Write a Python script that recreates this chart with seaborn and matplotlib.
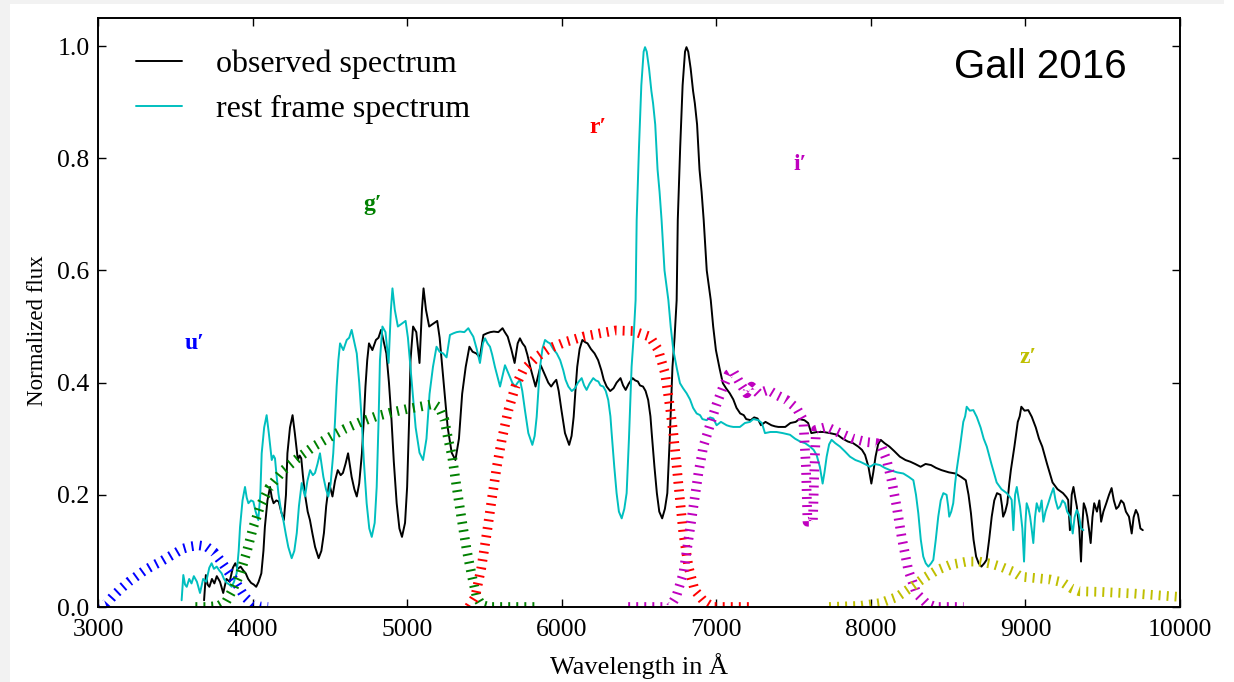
import matplotlib
matplotlib.use("Agg")
import matplotlib.pyplot as plt
from matplotlib.patches import Rectangle
from matplotlib.ticker import FormatStrFormatter
import pandas as pd
import seaborn as sns

# ---------------- data ----------------
# rest-frame wavelength (Angstrom) and normalized flux of the spectrum
rest_wavelength = [
    3541, 3552, 3563, 3574, 3590, 3605, 3620, 3640, 3660, 3680, 3700, 3720, 3735, 3750, 3768,
    3785, 3800, 3815, 3833, 3850, 3865, 3880, 3897, 3910, 3919, 3935, 3951, 3962, 3973, 3990,
    4005, 4020, 4037, 4050, 4059, 4075, 4091, 4105, 4124, 4135, 4145, 4155, 4167, 4185, 4199,
    4215, 4231, 4253, 4270, 4286, 4300, 4318, 4339, 4355, 4372, 4390, 4404, 4420, 4436, 4458,
    4475, 4490, 4505, 4522, 4533, 4544, 4555, 4566, 4587, 4609, 4625, 4641, 4660, 4674, 4690,
    4706, 4720, 4738, 4755, 4771, 4790, 4803, 4815, 4824, 4840, 4860, 4880, 4895, 4905, 4920,
    4940, 4965, 4990, 5005, 5030, 5055, 5080, 5103, 5125, 5145, 5167, 5190, 5210, 5233, 5255,
    5277, 5300, 5320, 5342, 5370, 5396, 5410, 5428, 5450, 5471, 5490, 5504, 5520, 5536, 5550,
    5568, 5585, 5601, 5615, 5633, 5650, 5665, 5680, 5698, 5715, 5730, 5745, 5762, 5784, 5810,
    5825, 5838, 5850, 5860, 5875, 5892, 5910, 5924, 5945, 5968, 5990, 6010, 6025, 6043, 6065,
    6086, 6105, 6129, 6145, 6161, 6180, 6204, 6220, 6237, 6250, 6269, 6285, 6301, 6315, 6323,
    6340, 6355, 6370, 6388, 6405, 6420, 6435, 6452, 6465, 6478, 6485, 6500, 6515, 6530, 6539,
    6550, 6565, 6580, 6591, 6605, 6620, 6633, 6646, 6665, 6690, 6705, 6722, 6745, 6765, 6785,
    6808, 6830, 6850, 6873, 6895, 6910, 6938, 6960, 6981, 7002, 7030, 7067, 7090, 7110, 7153,
    7185, 7218, 7240, 7272, 7295, 7315, 7350, 7390, 7430, 7477, 7510, 7542, 7575, 7606, 7630,
    7649, 7670, 7688, 7700, 7714, 7730, 7746, 7770, 7800, 7830, 7865, 7900, 7930, 7960, 7994,
    8025, 8059, 8090, 8124, 8170, 8210, 8245, 8275, 8292, 8307, 8323, 8339, 8355, 8372, 8390,
    8404, 8420, 8436, 8452, 8469, 8490, 8500, 8507, 8520, 8533, 8545, 8555, 8577, 8598, 8610,
    8620, 8640, 8663, 8685, 8710, 8730, 8750, 8780, 8814, 8845, 8879, 8900, 8911, 8922, 8933,
    8944, 8955, 8965, 8980, 8991, 9000, 9008, 9020, 9030, 9040, 9051, 9062, 9073, 9090, 9105,
    9116, 9130, 9148, 9165, 9181, 9195, 9210, 9224, 9240, 9256, 9270, 9289, 9306, 9318, 9332,
    9345, 9360, 9375,
]
flux = [
    0.012, 0.057, 0.040, 0.036, 0.050, 0.042, 0.055, 0.045, 0.025, 0.050, 0.045, 0.070, 0.078, 0.068, 0.072,
    0.065, 0.060, 0.050, 0.043, 0.040, 0.036, 0.045, 0.060, 0.100, 0.143, 0.190, 0.214, 0.195, 0.185, 0.190,
    0.188, 0.170, 0.155, 0.200, 0.274, 0.320, 0.342, 0.310, 0.262, 0.270, 0.265, 0.235, 0.203, 0.170, 0.155,
    0.130, 0.107, 0.087, 0.100, 0.132, 0.180, 0.221, 0.197, 0.225, 0.244, 0.235, 0.239, 0.255, 0.274, 0.232,
    0.210, 0.197, 0.220, 0.274, 0.330, 0.393, 0.440, 0.470, 0.458, 0.476, 0.480, 0.494, 0.470, 0.452, 0.400,
    0.333, 0.260, 0.185, 0.140, 0.125, 0.150, 0.214, 0.330, 0.440, 0.500, 0.490, 0.435, 0.530, 0.568, 0.530,
    0.500, 0.505, 0.510, 0.480, 0.400, 0.320, 0.275, 0.262, 0.300, 0.380, 0.428, 0.464, 0.455, 0.452, 0.445,
    0.485, 0.488, 0.490, 0.491, 0.490, 0.497, 0.490, 0.482, 0.460, 0.435, 0.470, 0.479, 0.470, 0.464, 0.450,
    0.428, 0.410, 0.393, 0.410, 0.431, 0.420, 0.410, 0.400, 0.393, 0.400, 0.405, 0.385, 0.351, 0.310, 0.289,
    0.305, 0.339, 0.390, 0.428, 0.460, 0.476, 0.472, 0.470, 0.460, 0.452, 0.440, 0.422, 0.405, 0.393, 0.385,
    0.390, 0.400, 0.408, 0.395, 0.387, 0.398, 0.408, 0.404, 0.402, 0.395, 0.393, 0.385, 0.369, 0.340, 0.310,
    0.250, 0.203, 0.170, 0.158, 0.175, 0.203, 0.300, 0.428, 0.480, 0.547, 0.690, 0.820, 0.930, 0.990, 0.998,
    0.990, 0.960, 0.920, 0.898, 0.860, 0.780, 0.740, 0.690, 0.600, 0.547, 0.500, 0.458, 0.425, 0.399, 0.390,
    0.381, 0.370, 0.355, 0.345, 0.342, 0.335, 0.333, 0.338, 0.336, 0.324, 0.330, 0.324, 0.322, 0.321, 0.321,
    0.328, 0.330, 0.335, 0.333, 0.328, 0.310, 0.312, 0.312, 0.310, 0.307, 0.300, 0.295, 0.292, 0.286, 0.280,
    0.271, 0.250, 0.220, 0.240, 0.268, 0.290, 0.298, 0.292, 0.286, 0.278, 0.268, 0.262, 0.259, 0.255, 0.250,
    0.255, 0.253, 0.248, 0.244, 0.240, 0.238, 0.232, 0.226, 0.200, 0.167, 0.120, 0.090, 0.078, 0.072, 0.078,
    0.084, 0.120, 0.161, 0.190, 0.203, 0.200, 0.180, 0.161, 0.170, 0.185, 0.220, 0.244, 0.286, 0.330, 0.340,
    0.357, 0.350, 0.351, 0.339, 0.320, 0.300, 0.286, 0.255, 0.222, 0.210, 0.203, 0.196, 0.191, 0.137, 0.200,
    0.214, 0.195, 0.179, 0.140, 0.081, 0.150, 0.185, 0.175, 0.161, 0.140, 0.114, 0.160, 0.185, 0.170, 0.190,
    0.152, 0.170, 0.185, 0.200, 0.212, 0.190, 0.175, 0.179, 0.190, 0.185, 0.170, 0.161, 0.131, 0.160, 0.173,
    0.165, 0.140, 0.137,
]
# observed = rest * (1 + z)
redshift = 0.041

# SDSS filter transmission curves
u_wave = [3000, 3050, 3100, 3150, 3200, 3250, 3300, 3350, 3400, 3450, 3500, 3550, 3600, 3650,
          3700, 3750, 3800, 3850, 3900, 3950, 4000, 4050, 4100]
u_trans = [0.0, 0.005, 0.02, 0.033, 0.045, 0.055, 0.065, 0.073, 0.08, 0.088, 0.096, 0.104, 0.108,
           0.110, 0.108, 0.098, 0.080, 0.060, 0.040, 0.018, 0.005, 0.001, 0.0]
g_wave = [3630, 3700, 3780, 3830, 3870, 3920, 3960, 4005, 4050, 4110, 4200, 4300, 4400, 4500, 4600,
          4700, 4800, 4900, 5000, 5100, 5170, 5210, 5240, 5265, 5290, 5320, 5350, 5385, 5420, 5450,
          5480, 5530, 5830]
g_trans = [0.0, 0.0, 0.002, 0.01, 0.03, 0.06, 0.096, 0.143, 0.18, 0.214, 0.244, 0.267, 0.287, 0.303,
           0.318, 0.33, 0.34, 0.347, 0.353, 0.358, 0.362, 0.355, 0.335, 0.30, 0.27, 0.214, 0.161, 0.102,
           0.054, 0.018, 0.004, 0.0, 0.0]
r_wave = [5400, 5440, 5480, 5515, 5547, 5580, 5612, 5655, 5700, 5750, 5840, 5920, 6030, 6140, 6250,
          6350, 6460, 6570, 6625, 6668, 6700, 6722, 6744, 6765, 6787, 6820, 6860, 6920, 6980, 7230]
r_trans = [0.0, 0.018, 0.07, 0.131, 0.191, 0.25, 0.298, 0.351, 0.393, 0.422, 0.446, 0.461, 0.473,
           0.482, 0.488, 0.493, 0.492, 0.482, 0.458, 0.417, 0.357, 0.31, 0.25, 0.191, 0.131, 0.072,
           0.03, 0.01, 0.0, 0.0]
i_wave = [6430, 6700, 6740, 6787, 6819, 6852, 6884, 6916, 6960, 7000, 7045, 7080, 7110, 7153, 7196,
          7228, 7272, 7336, 7390, 7455, 7520, 7563, 7580, 7590, 7625, 7635, 7645, 7714, 7800, 7887,
          7973, 8040, 8070, 8102, 8134, 8167, 8199, 8242, 8296, 8361, 8420, 8600]
i_trans = [0.0, 0.0, 0.018, 0.06, 0.119, 0.179, 0.238, 0.286, 0.325, 0.36, 0.393, 0.415, 0.42, 0.399,
           0.381, 0.393, 0.381, 0.387, 0.378, 0.369, 0.354, 0.333, 0.25, 0.152, 0.152, 0.25, 0.316,
           0.321, 0.31, 0.30, 0.294, 0.292, 0.285, 0.262, 0.226, 0.179, 0.125, 0.066, 0.024, 0.006,
           0.0, 0.0]
z_wave = [7730, 7930, 8060, 8170, 8250, 8340, 8430, 8510, 8620, 8700, 8780, 8840, 8920, 8970, 9050,
          9160, 9240, 9300, 9350, 9480, 9700, 10000]
z_trans = [0.0, 0.002, 0.007, 0.018, 0.033, 0.051, 0.066, 0.075, 0.081, 0.081, 0.077, 0.072, 0.063,
           0.054, 0.052, 0.049, 0.044, 0.033, 0.028, 0.027, 0.024, 0.018]

filter_names = ["u′", "g′", "r′", "i′", "z′"]
filter_label_x = [3627, 4779, 6235, 7541, 9016]
filter_label_y = [0.47, 0.718, 0.854, 0.788, 0.444]
legend_labels = ["observed spectrum", "rest frame spectrum"]
x_ticks = [3000, 4000, 5000, 6000, 7000, 8000, 9000, 10000]
y_ticks = [0.0, 0.2, 0.4, 0.6, 0.8, 1.0]

# ---------------- style ----------------
sns.set_style("ticks")
plt.rcParams.update({
    "axes.linewidth": 1.4,
    "xtick.direction": "in", "ytick.direction": "in",
    "xtick.top": True, "ytick.right": True,
    "xtick.major.size": 5.5, "ytick.major.size": 5.5,
    "xtick.major.width": 1.0, "ytick.major.width": 1.0,
    "xtick.color": "black", "ytick.color": "black",
    "xtick.labelcolor": "black", "ytick.labelcolor": "black",
    "axes.edgecolor": "black", "axes.labelcolor": "black", "text.color": "black",
    "lines.scale_dashes": False,
})
plt.rcParams["font.family"] = ["Liberation Serif", "DejaVu Serif"]

colors = {"b": (0, 0, 1), "g": (0, 0.5, 0), "r": (1, 0, 0), "m": (0.75, 0, 0.75), "y": (0.75, 0.75, 0)}
filter_colors = [colors["b"], colors["g"], colors["r"], colors["m"], colors["y"]]

fig = plt.figure(figsize=(12.34, 6.82), dpi=100, facecolor="white")
fig.patches.append(Rectangle((0, 1 - 4 / 682), 1224 / 1234, 4 / 682, transform=fig.transFigure,
                             facecolor="#f2f2f2", edgecolor="none", zorder=0))
fig.patches.append(Rectangle((0, 0), 10 / 1234, 1, transform=fig.transFigure,
                             facecolor="#f2f2f2", edgecolor="none", zorder=0))
ax = fig.add_axes([98 / 1234, 75 / 682, 1082 / 1234, 589 / 682])

obs_wavelength = [w * (1 + redshift) for w in rest_wavelength]
spec_obs = pd.DataFrame({"wavelength": obs_wavelength, "flux": flux})
spec_rest = pd.DataFrame({"wavelength": rest_wavelength, "flux": flux})

sns.lineplot(data=spec_obs, x="wavelength", y="flux", color="black", lw=1.4,
             sort=False, estimator=None, ax=ax)
sns.lineplot(data=spec_rest, x="wavelength", y="flux", color=(0, 0.75, 0.75), lw=1.4,
             sort=False, estimator=None, ax=ax)
spec_lines = list(ax.lines[:2])

filters = [(u_wave, u_trans), (g_wave, g_trans), (r_wave, r_trans), (i_wave, i_trans), (z_wave, z_trans)]
for (w, t), c in zip(filters, filter_colors):
    df = pd.DataFrame({"wavelength": w, "trans": t})
    sns.lineplot(data=df, x="wavelength", y="trans", color=c, sort=False, estimator=None, ax=ax)
    line = ax.lines[-1]
    line.set_linewidth(7.0)
    line.set_dashes((1.4, 4.4))
    line.set_dash_capstyle("butt")

for name, x, y, c in zip(filter_names, filter_label_x, filter_label_y, filter_colors):
    ax.text(x, y, name, color=c, fontsize=17, fontweight="bold", ha="center", va="center",
            family=["Liberation Serif", "DejaVu Serif"])

ax.text(9657, 0.962, "Gall 2016", ha="right", va="center", fontsize=29,
        family=["Liberation Sans", "DejaVu Sans"])

ax.set_xlim(3000, 10000)
ax.set_ylim(0, 1.05)
ax.set_xticks(x_ticks)
ax.set_yticks(y_ticks)
ax.yaxis.set_major_formatter(FormatStrFormatter("%.1f"))
ax.tick_params(labelsize=18.5)
ax.tick_params(axis="x", pad=9)
ax.tick_params(axis="y", pad=6)
ax.set_xlabel("Wavelength in Å", fontsize=19, labelpad=8)
ax.set_ylabel("Normalized flux", fontsize=16.5)
ax.yaxis.set_label_coords(-0.046, 0.47)

leg = ax.legend(handles=spec_lines, labels=legend_labels, loc="upper left",
                bbox_to_anchor=(0.0351, 0.947), frameon=False, fontsize=23,
                handlelength=1.45, handletextpad=1.05, labelspacing=0.5,
                borderpad=0, borderaxespad=0)

fig.savefig("out.png", dpi=100, facecolor=fig.get_facecolor())
